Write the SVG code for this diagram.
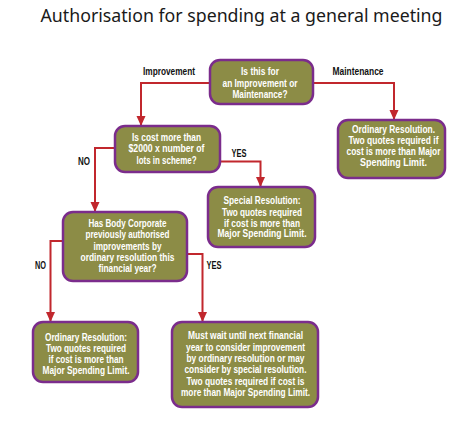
<svg xmlns="http://www.w3.org/2000/svg" width="471" height="423" viewBox="0 0 471 423">
<style>
.box{fill:#8c8c46;stroke:#7b2c8c;stroke-width:2.5}
.bt{font-family:"Liberation Sans",Arial,sans-serif;font-weight:bold;font-size:11px;fill:#ffffff;text-anchor:middle}
.lb{font-family:"Liberation Sans",Arial,sans-serif;font-weight:bold;font-size:10px;fill:#111111;text-anchor:middle}
.title{font-family:"Noto Sans","Liberation Sans",sans-serif;font-size:18.5px;fill:#1a1a1a;text-anchor:middle}
.con{fill:none;stroke:#c1272d;stroke-width:2;marker-end:url(#arr)}
</style>
<defs>
<marker id="arr" markerUnits="userSpaceOnUse" markerWidth="10" markerHeight="10" viewBox="0 0 10 10" refX="10" refY="5" orient="auto">
<path d="M0,0.5 L10,5 L0,9.5 z" fill="#c1272d"/>
</marker>
</defs>
<rect width="471" height="423" fill="#ffffff"/>
<text class="title" x="241.5" y="21.5" textLength="402" lengthAdjust="spacingAndGlyphs">Authorisation for spending at a general meeting</text>

<g id="connectors">
<path class="con" d="M210,83 H141 V126"/>
<path class="con" d="M313,83 H394 V120"/>
<path class="con" d="M220,161.5 H260.5 V187"/>
<path class="con" d="M115,148 H95 V212"/>
<path class="con" d="M63,241 H50.5 V322"/>
<path class="con" d="M187,254 H202.5 V322"/>
</g>

<g id="labels">
<text class="lb" x="169" y="75" textLength="52" lengthAdjust="spacingAndGlyphs">Improvement</text>
<text class="lb" x="358" y="75" textLength="51" lengthAdjust="spacingAndGlyphs">Maintenance</text>
<text class="lb" x="239" y="156.7" textLength="15" lengthAdjust="spacingAndGlyphs">YES</text>
<text class="lb" x="84" y="165" textLength="12" lengthAdjust="spacingAndGlyphs">NO</text>
<text class="lb" x="40.5" y="268.5" textLength="11" lengthAdjust="spacingAndGlyphs">NO</text>
<text class="lb" x="214" y="268.5" textLength="15" lengthAdjust="spacingAndGlyphs">YES</text>
</g>

<g id="q-type">
<rect class="box" x="210" y="60" width="103" height="44" rx="10"/>
<text class="bt" x="260" y="75" textLength="38" lengthAdjust="spacingAndGlyphs">Is this for</text>
<text class="bt" x="260" y="86.5" textLength="75" lengthAdjust="spacingAndGlyphs">an Improvement or</text>
<text class="bt" x="260" y="98" textLength="55" lengthAdjust="spacingAndGlyphs">Maintenance?</text>
</g>

<g id="q-cost">
<rect class="box" x="115" y="126" width="105" height="46" rx="10"/>
<text class="bt" x="166.5" y="140.5" textLength="69" lengthAdjust="spacingAndGlyphs">Is cost more than</text>
<text class="bt" x="166.5" y="152" textLength="76" lengthAdjust="spacingAndGlyphs">$2000 x number of</text>
<text class="bt" x="166.5" y="163.5" textLength="60" lengthAdjust="spacingAndGlyphs">lots in scheme?</text>
</g>

<g id="ordinary-maintenance">
<rect class="box" x="338" y="120" width="107" height="58" rx="10"/>
<text class="bt" x="393.5" y="133" textLength="83" lengthAdjust="spacingAndGlyphs">Ordinary Resolution.</text>
<text class="bt" x="393.5" y="144" textLength="90" lengthAdjust="spacingAndGlyphs">Two quotes required if</text>
<text class="bt" x="393.5" y="155" textLength="94" lengthAdjust="spacingAndGlyphs">cost is more than Major</text>
<text class="bt" x="393.5" y="165.5" textLength="67" lengthAdjust="spacingAndGlyphs">Spending Limit.</text>
</g>

<g id="special">
<rect class="box" x="208" y="187" width="107" height="60" rx="10"/>
<text class="bt" x="262" y="204" textLength="77" lengthAdjust="spacingAndGlyphs">Special Resolution:</text>
<text class="bt" x="262" y="215.5" textLength="80" lengthAdjust="spacingAndGlyphs">Two quotes required</text>
<text class="bt" x="262" y="226.5" textLength="76" lengthAdjust="spacingAndGlyphs">if cost is more than</text>
<text class="bt" x="262" y="237" textLength="89" lengthAdjust="spacingAndGlyphs">Major Spending Limit.</text>
</g>

<g id="q-previous">
<rect class="box" x="63" y="212" width="124" height="69" rx="10"/>
<text class="bt" x="127.5" y="226.5" textLength="78" lengthAdjust="spacingAndGlyphs">Has Body Corporate</text>
<text class="bt" x="127.5" y="238" textLength="84" lengthAdjust="spacingAndGlyphs">previously authorised</text>
<text class="bt" x="127.5" y="249.5" textLength="68" lengthAdjust="spacingAndGlyphs">improvements by</text>
<text class="bt" x="127.5" y="261" textLength="94" lengthAdjust="spacingAndGlyphs">ordinary resolution this</text>
<text class="bt" x="127.5" y="272" textLength="58" lengthAdjust="spacingAndGlyphs">financial year?</text>
</g>

<g id="ordinary-improvement">
<rect class="box" x="33" y="322" width="105" height="60" rx="10"/>
<text class="bt" x="86" y="340.5" textLength="82" lengthAdjust="spacingAndGlyphs">Ordinary Resolution:</text>
<text class="bt" x="86" y="352" textLength="80" lengthAdjust="spacingAndGlyphs">Two quotes required</text>
<text class="bt" x="86" y="363" textLength="75" lengthAdjust="spacingAndGlyphs">if cost is more than</text>
<text class="bt" x="86" y="374" textLength="87" lengthAdjust="spacingAndGlyphs">Major Spending Limit.</text>
</g>

<g id="must-wait">
<rect class="box" x="172" y="322" width="146" height="85" rx="10"/>
<text class="bt" x="245.5" y="339" textLength="115" lengthAdjust="spacingAndGlyphs">Must wait until next financial</text>
<text class="bt" x="245.5" y="351" textLength="119" lengthAdjust="spacingAndGlyphs">year to consider improvement</text>
<text class="bt" x="245.5" y="362" textLength="118" lengthAdjust="spacingAndGlyphs">by ordinary resolution or may</text>
<text class="bt" x="245.5" y="373" textLength="122" lengthAdjust="spacingAndGlyphs">consider by special resolution.</text>
<text class="bt" x="245.5" y="384.5" textLength="118" lengthAdjust="spacingAndGlyphs">Two quotes required if cost is</text>
<text class="bt" x="245.5" y="395.5" textLength="129" lengthAdjust="spacingAndGlyphs">more than Major Spending Limit.</text>
</g>
</svg>
